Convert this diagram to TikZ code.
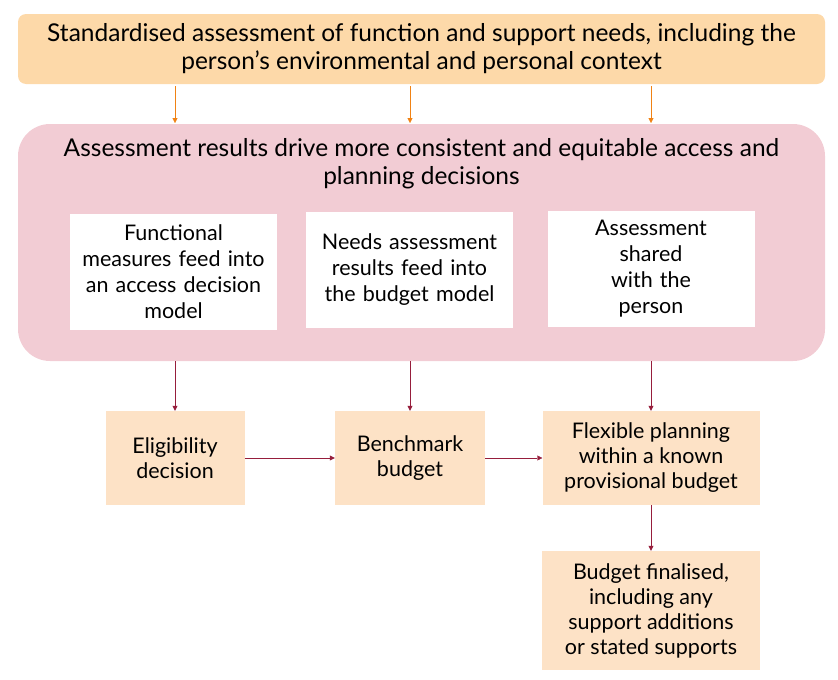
\documentclass[tikz,border=0pt]{standalone}
\usepackage{fontspec}
\setmainfont{Lato}
\usetikzlibrary{positioning, arrows.meta}
\definecolor{topfill}{RGB}{253, 217, 169}
\definecolor{pinkfill}{RGB}{242, 204, 212}
\definecolor{stepfill}{RGB}{253, 226, 198}
\definecolor{orangearrow}{RGB}{240, 130, 20}
\definecolor{redarrow}{RGB}{150, 30, 60}
\tikzset{
    whitebox/.style={
        rectangle,
        fill=white,
        minimum width=207pt,
        minimum height=116pt,
        text width=200pt,
        align=center,
        font=\fontsize{21.5}{26}\selectfont
    },
    stepbox/.style={
        rectangle,
        fill=stepfill,
        minimum height=94pt,
        align=center,
        font=\fontsize{21.5}{25}\selectfont
    },
    toparrow/.style={
        -{Triangle[length=5pt,width=5pt]},
        color=orangearrow
    },
    arrow/.style={
        -{Triangle[length=5pt,width=5pt]},
        color=redarrow
    }
}
\begin{document}
\begin{tikzpicture}[x=1pt, y=-1pt]
    \useasboundingbox (0,0) rectangle (838,680);

    % --- top assessment box ---
    \node (assess) [rectangle, rounded corners=8pt, fill=topfill, minimum width=807pt, minimum height=70pt, align=center, font=\fontsize{24.5}{28}\selectfont] at (421.5,49) {Standardised assessment of function and support needs, including the\\person’s environmental and personal context};

    % --- results panel ---
    \node (results) [rectangle, rounded corners=32pt, fill=pinkfill, minimum width=807pt, minimum height=237pt] at (421.5,242.5) {};
    \node (resultstitle) [align=center, font=\fontsize{24.5}{28}\selectfont] at (421.5,164) {Assessment results drive more consistent and equitable access and\\planning decisions};
    \node (access) [whitebox] at (173.5,272) {Functional\\measures feed into\\an access decision\\model};
    \node (budgetmodel) [whitebox] at (409.5,270) {Needs assessment\\results feed into\\the budget model};
    \node (shared) [whitebox] at (651,269) {Assessment\\shared\\with the\\person};

    % --- steps ---
    \node (eligibility) [stepbox, minimum width=139pt] at (175,458) {Eligibility\\decision};
    \node (benchmark) [stepbox, minimum width=150pt] at (410,458) {Benchmark\\budget};
    \node (flexible) [stepbox, minimum width=217pt] at (651,458) {Flexible planning\\within a known\\provisional budget};
    \node (final) [stepbox, minimum width=218pt, minimum height=119pt] at (651,610.5) {Budget finalised,\\including any\\support additions\\or stated supports};

    \draw [toparrow] (175,86) -- (175,123);
    \draw [toparrow] (410,86) -- (410,123);
    \draw [toparrow] (651,86) -- (651,123);

    \draw [arrow] (eligibility.north |- results.south) -- (eligibility.north);
    \draw [arrow] (benchmark.north |- results.south) -- (benchmark.north);
    \draw [arrow] (flexible.north |- results.south) -- (flexible.north);
    \draw [arrow] (eligibility) -- (benchmark);
    \draw [arrow] (benchmark) -- (flexible);
    \draw [arrow] (flexible) -- (final);
\end{tikzpicture}
\end{document}
